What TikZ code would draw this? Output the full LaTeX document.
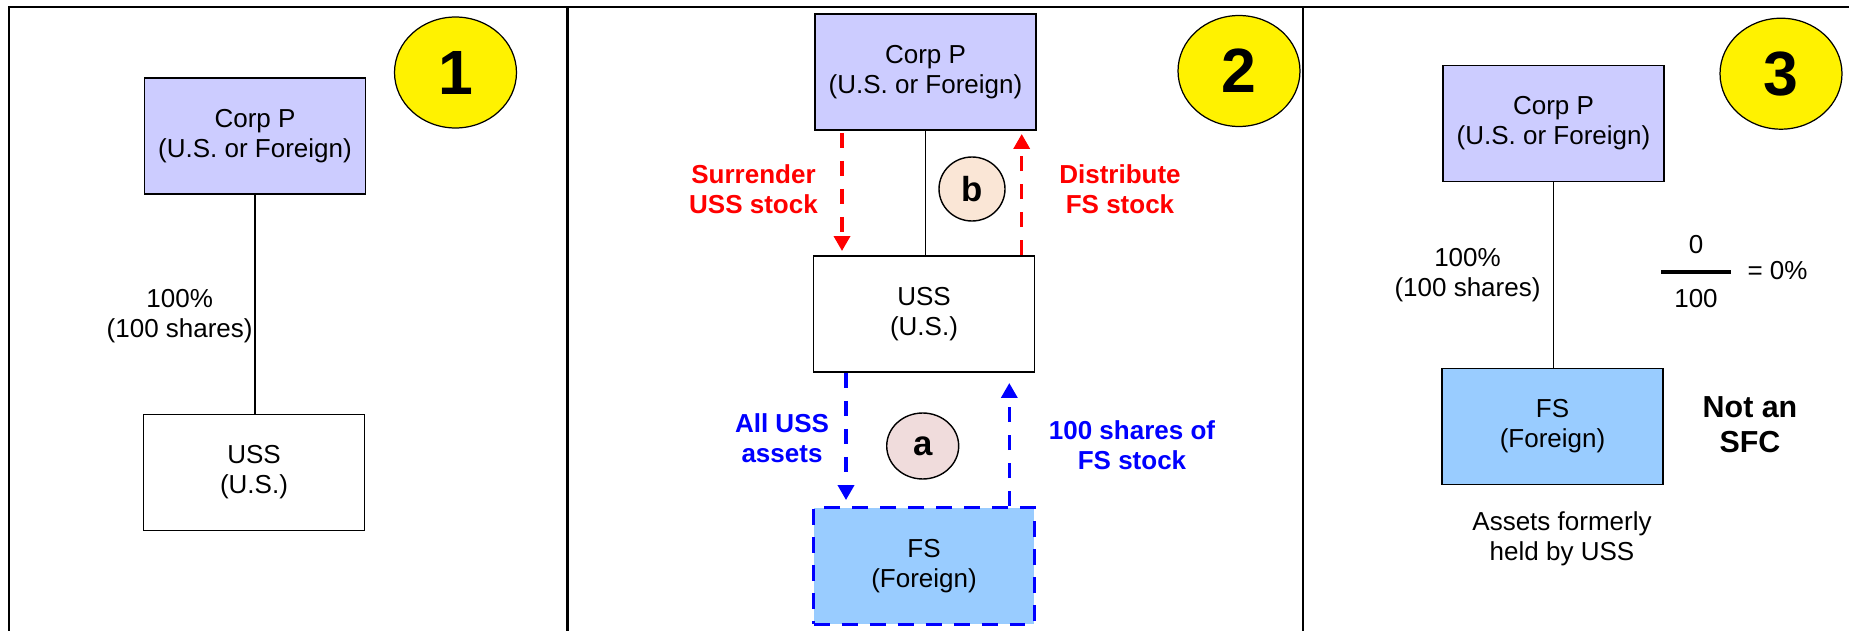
\documentclass[tikz,border=0pt]{standalone}
\usepackage{fontspec}
\setmainfont{Liberation Sans}
\usetikzlibrary{arrows.meta,shapes.geometric}
\definecolor{corpfill}{RGB}{204,204,255}
\definecolor{fsfill}{RGB}{153,204,255}
\definecolor{afill}{RGB}{240,220,220}
\definecolor{bfill}{RGB}{250,230,214}
\newcommand{\diagfont}{\fontsize{14.8}{17}\selectfont}
\tikzset{
  entity/.style={draw, line width=0.85pt, minimum width=4.42cm, minimum height=2.33cm, align=center, font=\diagfont},
  corp/.style={entity, fill=corpfill},
  fsbox/.style={entity, fill=fsfill},
  badge/.style={ellipse, draw, line width=0.7pt, fill=yellow, minimum width=2.44cm, minimum height=2.22cm, inner sep=0pt, font=\fontsize{35.6}{40}\selectfont\bfseries},
  stepmark/.style={ellipse, draw, line width=0.8pt, inner sep=0pt, font=\fontsize{19.8}{22}\selectfont\bfseries},
  lbl/.style={align=center, inner sep=0pt, font=\diagfont},
  flowlbl/.style={lbl, font=\diagfont\bfseries},
  flow/.style={dash pattern=on 0.3cm off 0.26cm, line width=2pt, -{Triangle[width=0.32cm,length=0.3cm]}},
  link/.style={line width=0.75pt},
  frame/.style={line width=1.4pt},
}
\begin{document}
\begin{tikzpicture}[x=0.02cm, y=-0.02cm]
        \useasboundingbox (0,0) rectangle (1849,631);
        \draw[frame] (9,631) -- (9,7) -- (1849,7);
        \draw[frame] (567.7,7) -- (567.7,631);
        \draw[frame] (1303,7) -- (1303,631);

        \node[corp] (cp1) at (255,136) {Corp P\\(U.S. or Foreign)};
        \node[entity] (uss1) at (254,472.5) {USS\\(U.S.)};
        \node[badge] (one) at (455.5,72.5) {1};
        \draw[link] (cp1.south) -- (cp1.south |- uss1.north);
        \node[lbl, anchor=east] (own1) at (253,316) {100\%\\(100 shares)};

        \node[corp] (cp2) at (925.5,72) {Corp P\\(U.S. or Foreign)};
        \node[entity] (uss2) at (924,314) {USS\\(U.S.)};
        \node[fsbox, draw=blue, dash pattern=on 0.32cm off 0.24cm, line width=1.9pt] (fs2) at (924,566) {FS\\(Foreign)};
        \node[badge] (two) at (1239,71) {2};
        \node[stepmark, fill=bfill, minimum width=1.32cm, minimum height=1.28cm] (b) at (972,189) {b};
        \node[stepmark, fill=afill, minimum width=1.44cm, minimum height=1.32cm] (a) at (922.7,446) {a};
        \draw[link] (cp2.south) -- (cp2.south |- uss2.north);
        \coordinate (surr) at (842,133);
        \draw[flow, red, shorten >=0.08cm] (surr) -- (surr |- uss2.north);
        \coordinate (dist) at (1021.7,0);
        \draw[flow, red, shorten >=0.06cm] (dist |- uss2.north) -- (dist |- cp2.south);
        \coordinate (assets) at (846,0);
        \draw[flow, blue, shorten >=0.12cm] (assets |- uss2.south) -- (assets |- fs2.north);
        \coordinate (shares) at (1009.3,0);
        \draw[flow, blue, shorten >=0.2cm] (shares |- fs2.north) -- (shares |- uss2.south);
        \node[flowlbl, red] (surrlbl) at (753.5,189) {Surrender\\USS stock};
        \node[flowlbl, red] (distlbl) at (1120,189) {Distribute\\FS stock};
        \node[flowlbl, blue] (assetslbl) at (782,438) {All USS\\assets};
        \node[flowlbl, blue] (shareslbl) at (1132,445) {100 shares of\\FS stock};

        \node[corp] (cp3) at (1553.5,123.5) {Corp P\\(U.S. or Foreign)};
        \node[fsbox] (fs3) at (1552.5,426.5) {FS\\(Foreign)};
        \node[badge] (three) at (1781,73.7) {3};
        \draw[link] (cp3.south) -- (cp3.south |- fs3.north);
        \node[lbl] (own3) at (1467.5,275) {100\%\\(100 shares)};
        \node[lbl] (num) at (1696,245) {0};
        \node[lbl] (den) at (1696,299) {100};
        \draw[line width=2.3pt] (1661,271.7) -- (1730.7,271.7);
        \node[lbl] (ratio) at (1777.5,271) {= 0\%};
        \node[lbl, font=\fontsize{17.3}{19.8}\selectfont\bfseries] (nosfc) at (1750,424.5) {Not an\\SFC};
        \node[lbl] (former) at (1562,539) {Assets formerly\\held by USS};
      \end{tikzpicture}
\end{document}
